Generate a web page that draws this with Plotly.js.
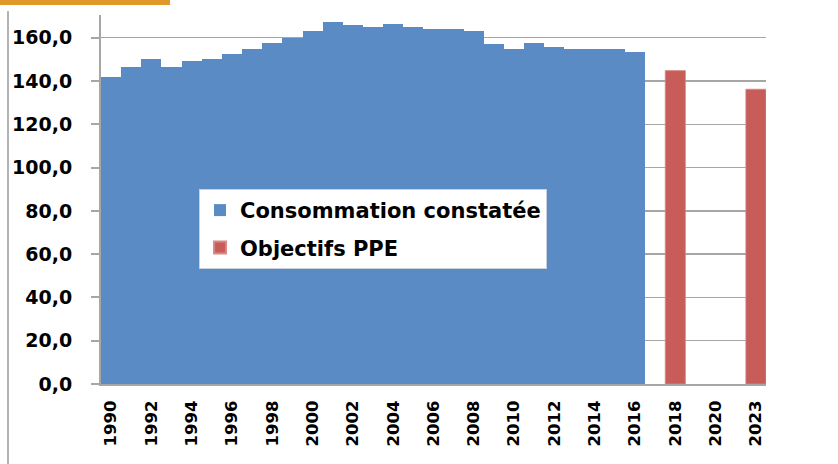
<!DOCTYPE html>
<html>
<head>
<meta charset="utf-8">
<script src="https://cdn.plot.ly/plotly-3.0.1.min.js"></script>
<style>
  html, body { margin: 0; padding: 0; background: #ffffff; }
  #wrap { position: relative; width: 838px; height: 464px; overflow: hidden; }
  #chart { position: absolute; left: 0; top: 0; width: 838px; height: 464px; }
  #topbar { position: absolute; left: 0; top: 0; width: 170px; height: 5px; background: #e0982a; z-index: 2; }
  #leftline { position: absolute; left: 7px; top: 11px; width: 2px; height: 460px; background: #b4b4b4; z-index: 2; }
</style>
</head>
<body>
<div id="wrap">
  <div id="chart"></div>
  <div id="topbar"></div>
  <div id="leftline"></div>
</div>
<script>
// Categories shown on the x axis (one slot per year position in the original chart)
const categories = ['1990','1991','1992','1993','1994','1995','1996','1997','1998','1999',
                    '2000','2001','2002','2003','2004','2005','2006','2007','2008','2009',
                    '2010','2011','2012','2013','2014','2015','2016','2017','2018','2019',
                    '2020','2021','2023'];
// Observed consumption
const observedYears = ['1990','1991','1992','1993','1994','1995','1996','1997','1998','1999',
                       '2000','2001','2002','2003','2004','2005','2006','2007','2008','2009',
                       '2010','2011','2012','2013','2014','2015','2016'];
const observedValues = [142.0, 146.6, 150.3, 146.6, 149.4, 150.2, 152.3, 154.9, 157.4, 159.7,
                        163.0, 167.1, 165.7, 165.1, 166.2, 164.9, 164.2, 164.2, 163.1, 156.9,
                        154.9, 157.5, 155.6, 154.9, 154.9, 154.8, 153.5];
// PPE targets
const targetYears = ['2018','2023'];
const targetValues = [144.8, 136.2];
// Tick labels
const xTickLabels = ['1990','1992','1994','1996','1998','2000','2002','2004','2006','2008',
                     '2010','2012','2014','2016','2018','2020','2023'];
const yTickValues = [0, 20, 40, 60, 80, 100, 120, 140, 160];

const blue = '#5b8bc4';
const red = '#c75c58';
const axisGray = '#a6a6a6';

const traces = [
  {
    type: 'bar', name: 'Consommation constatée',
    x: observedYears, y: observedValues,
    marker: { color: blue, line: { width: 0 } },
    legendgroup: 'a', hoverinfo: 'x+y'
  },
  {
    type: 'bar', name: 'Objectifs PPE',
    x: targetYears, y: targetValues,
    marker: { color: red, line: { color: '#d88a86', width: 0.8 } },
    legendgroup: 'b', hoverinfo: 'x+y'
  }
];

const layout = {
  width: 838, height: 464,
  margin: { l: 101, r: 72, t: 15, b: 80, pad: 0 },
  paper_bgcolor: 'rgba(0,0,0,0)', plot_bgcolor: 'rgba(0,0,0,0)',
  separators: ', ',
  barmode: 'overlay', bargap: 0,
  showlegend: true,
  legend: {
    x: 0.1474, y: 0.5286, xanchor: 'left', yanchor: 'top',
    bgcolor: '#ffffff', bordercolor: '#c8d0dc', borderwidth: 1,
    font: { family: 'DejaVu Sans', size: 21, color: '#000000', weight: 'bold' },
    traceorder: 'grouped', tracegroupgap: 7,
    itemsizing: 'constant'
  },
  xaxis: {
    type: 'category', categoryorder: 'array', categoryarray: categories,
    range: [-0.5, categories.length - 0.5],
    tickmode: 'array', tickvals: xTickLabels, ticktext: xTickLabels,
    tickangle: -90, ticks: 'outside', ticklen: 8, tickcolor: 'rgba(0,0,0,0)',
    tickfont: { family: 'DejaVu Sans', size: 16.5, color: '#000000', weight: 'bold' },
    showline: true, linecolor: axisGray, linewidth: 2,
    showgrid: false, zeroline: false, fixedrange: true
  },
  xaxis2: {
    overlaying: 'x', anchor: 'y', side: 'bottom',
    range: [-0.5, categories.length - 0.5],
    tickmode: 'linear', tick0: -0.5, dtick: 1,
    ticks: 'outside', ticklen: 8, tickwidth: 2, tickcolor: axisGray,
    showticklabels: false, showline: false, showgrid: false, zeroline: false
  },
  yaxis: {
    range: [0, 170.5],
    tickmode: 'array', tickvals: yTickValues, tickformat: '.1f',
    ticks: 'outside', ticklen: 8, tickwidth: 2, tickcolor: axisGray,
    tickfont: { family: 'DejaVu Sans', size: 19, color: '#000000', weight: 'bold' },
    ticklabelstandoff: 15,
    showline: true, linecolor: axisGray, linewidth: 2,
    showgrid: true, gridcolor: axisGray, gridwidth: 1.5,
    zeroline: false, fixedrange: true
  }
};

Plotly.newPlot('chart', traces, layout, { displayModeBar: false, staticPlot: true });
</script>
</body>
</html>
